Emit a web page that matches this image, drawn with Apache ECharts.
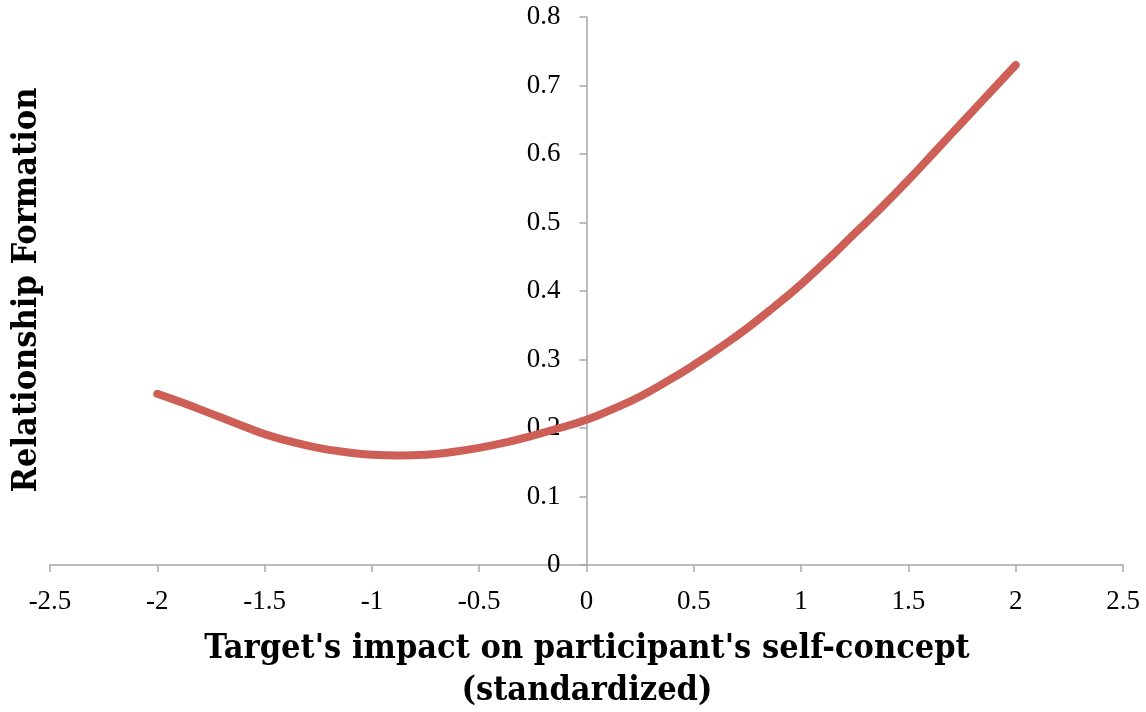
<!DOCTYPE html>
<html>
<head>
<meta charset="utf-8">
<script src="https://cdn.jsdelivr.net/npm/echarts@6/dist/echarts.min.js"></script>
<style>
html,body{margin:0;padding:0;background:#fff;}
#chart{width:1146px;height:712px;}
</style>
</head>
<body>
<div id="chart"></div>
<script>
// Data
const xValues = [-2, -1.875, -1.75, -1.625, -1.5, -1.375, -1.25, -1.125, -1, -0.875, -0.75, -0.625, -0.5, -0.375, -0.25, -0.125,
                 0, 0.125, 0.25, 0.375, 0.5, 0.625, 0.75, 0.875, 1, 1.125, 1.25, 1.375, 1.5, 1.625, 1.75, 1.875, 2];
const yValues = [0.250, 0.236, 0.221, 0.206, 0.191, 0.180, 0.171, 0.165, 0.161, 0.160, 0.161, 0.165, 0.171, 0.179, 0.189, 0.200,
                 0.212, 0.228, 0.246, 0.268, 0.292, 0.318, 0.346, 0.377, 0.410, 0.446, 0.484, 0.522, 0.562, 0.604, 0.646, 0.688, 0.730];
const xAxisTitle = "Target's impact on participant's self-concept\n(standardized)";
const yAxisTitle = "Relationship Formation";

const seriesData = xValues.map((x, i) => [x, yValues[i]]);
const serif = "'Liberation Serif', serif";
const titleFont = "'DejaVu Serif Condensed', 'DejaVu Serif', serif";
const axisColor = '#A6A6A6';

const chart = echarts.init(document.getElementById('chart'), null, {renderer: 'canvas'});
chart.setOption({
  animation: false,
  backgroundColor: '#fff',
  grid: {left: 50, right: 23, top: 17, bottom: 147, containLabel: false},
  xAxis: {
    type: 'value', min: -2.5, max: 2.5, interval: 0.5,
    axisLine: {show: true, onZero: true, lineStyle: {color: axisColor, width: 1.5}},
    axisTick: {show: true, inside: false, length: 7, lineStyle: {color: axisColor, width: 1.5}},
    axisLabel: {color: '#000', fontFamily: serif, fontSize: 27, margin: 23},
    splitLine: {show: false}
  },
  yAxis: {
    type: 'value', min: 0, max: 0.8, interval: 0.1,
    offset: -536.5,
    axisLine: {show: true, onZero: false, lineStyle: {color: axisColor, width: 1.5}},
    axisTick: {show: true, inside: false, length: 7, lineStyle: {color: axisColor, width: 1.5}},
    axisLabel: {color: '#000', fontFamily: serif, fontSize: 27, margin: 26},
    splitLine: {show: false}
  },
  graphic: [
    {
      type: 'text', x: 27, y: 290, rotation: Math.PI / 2,
      style: {text: yAxisTitle, font: "bold 34px " + titleFont, fill: '#000', align: 'center', verticalAlign: 'middle'}
    },
    {
      type: 'text', x: 587, y: 670,
      style: {text: xAxisTitle, font: "bold 34px " + titleFont, fill: '#000', align: 'center', verticalAlign: 'middle', lineHeight: 42}
    }
  ],
  series: [{
    type: 'line', data: seriesData, smooth: true, showSymbol: false,
    lineStyle: {color: '#CD5F57', width: 8, cap: 'round', join: 'round'}
  }]
});
</script>
</body>
</html>
